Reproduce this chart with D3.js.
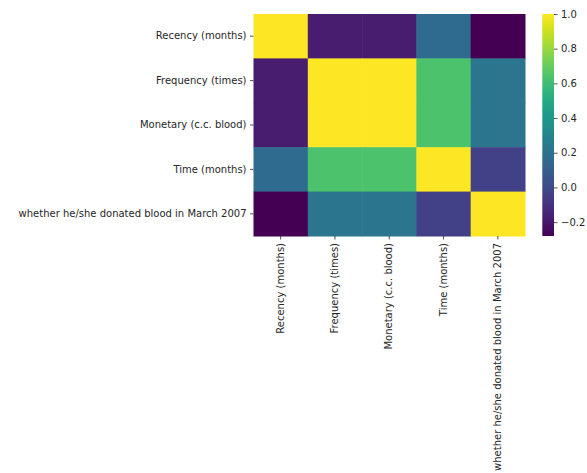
<!DOCTYPE html>
<html>
<head>
<meta charset="utf-8">
<script src="https://cdn.jsdelivr.net/npm/d3@7"></script>
<style>
  body { margin: 0; background: #fff; }
  text { font-family: "DejaVu Sans", sans-serif; fill: #262626; }
</style>
</head>
<body>
<div id="chart"></div>
<script>
// Correlation matrix of the blood transfusion columns.
const labels = [
  "Recency (months)",
  "Frequency (times)",
  "Monetary (c.c. blood)",
  "Time (months)",
  "whether he/she donated blood in March 2007",
];
const corr = [
  [1.0, -0.183, -0.183, 0.161, -0.280],
  [-0.183, 1.0, 1.0, 0.635, 0.219],
  [-0.183, 1.0, 1.0, 0.635, 0.219],
  [0.161, 0.635, 0.635, 1.0, -0.036],
  [-0.280, 0.219, 0.219, -0.036, 1.0],
];
const cbarTicks = [-0.2, 0.0, 0.2, 0.4, 0.6, 0.8, 1.0];

const width = 587, height = 473;
const m = { top: 14, left: 253.5, w: 271.5, h: 222 };

const svg = d3.select("#chart").append("svg")
  .attr("width", width).attr("height", height);

const vmin = d3.min(corr.flat()), vmax = d3.max(corr.flat());
const color = d3.scaleSequential(d3.interpolateViridis).domain([vmin, vmax]);

const x = d3.scaleBand().domain(labels).range([m.left, m.left + m.w]);
const y = d3.scaleBand().domain(labels).range([m.top, m.top + m.h]);

const cells = corr.flatMap((row, i) => row.map((v, j) => ({ r: labels[i], c: labels[j], v })));
svg.append("g").selectAll("rect").data(cells).join("rect")
  .attr("x", (d) => x(d.c)).attr("y", (d) => y(d.r))
  .attr("width", x.bandwidth() + 0.5).attr("height", y.bandwidth() + 0.5)
  .attr("fill", (d) => color(d.v));

const yAxis = svg.append("g").attr("transform", `translate(${m.left},0)`)
  .call(d3.axisLeft(y).tickSize(3.5).tickPadding(3.5));
yAxis.select(".domain").remove();
yAxis.selectAll("text").attr("font-size", 10).style("font-family", "DejaVu Sans");
yAxis.selectAll("line").attr("stroke", "#262626").attr("stroke-width", 0.8);

const xAxis = svg.append("g").attr("transform", `translate(0,${m.top + m.h})`)
  .call(d3.axisBottom(x).tickSize(3.5).tickPadding(3.5));
xAxis.select(".domain").remove();
xAxis.selectAll("line").attr("stroke", "#262626").attr("stroke-width", 0.8);
xAxis.selectAll("text")
  .attr("font-size", 10).style("font-family", "DejaVu Sans")
  .attr("transform", "rotate(-90)")
  .attr("text-anchor", "end").attr("dy", "0.32em")
  .attr("x", -7).attr("y", 0);

// colorbar
const cb = { x: 542.3, w: 11.7 };
const cy = d3.scaleLinear().domain([vmin, vmax]).range([m.top + m.h, m.top]);
const defs = svg.append("defs");
const grad = defs.append("linearGradient").attr("id", "cbar")
  .attr("x1", 0).attr("x2", 0).attr("y1", 1).attr("y2", 0);
d3.range(0, 1.0001, 0.05).forEach((t) => {
  grad.append("stop").attr("offset", t).attr("stop-color", d3.interpolateViridis(t));
});
svg.append("rect").attr("x", cb.x).attr("y", m.top)
  .attr("width", cb.w).attr("height", m.h).attr("fill", "url(#cbar)");

const cAxis = svg.append("g").attr("transform", `translate(${cb.x + cb.w},0)`)
  .call(d3.axisRight(cy).tickValues(cbarTicks).tickSize(3.5).tickPadding(3.5)
    .tickFormat((d) => (d < 0 ? "\u22120.2" : d3.format(".1f")(d))));
cAxis.select(".domain").remove();
cAxis.selectAll("line").attr("stroke", "#262626").attr("stroke-width", 0.8);
cAxis.selectAll("text").attr("font-size", 10).style("font-family", "DejaVu Sans");
</script>
</body>
</html>
